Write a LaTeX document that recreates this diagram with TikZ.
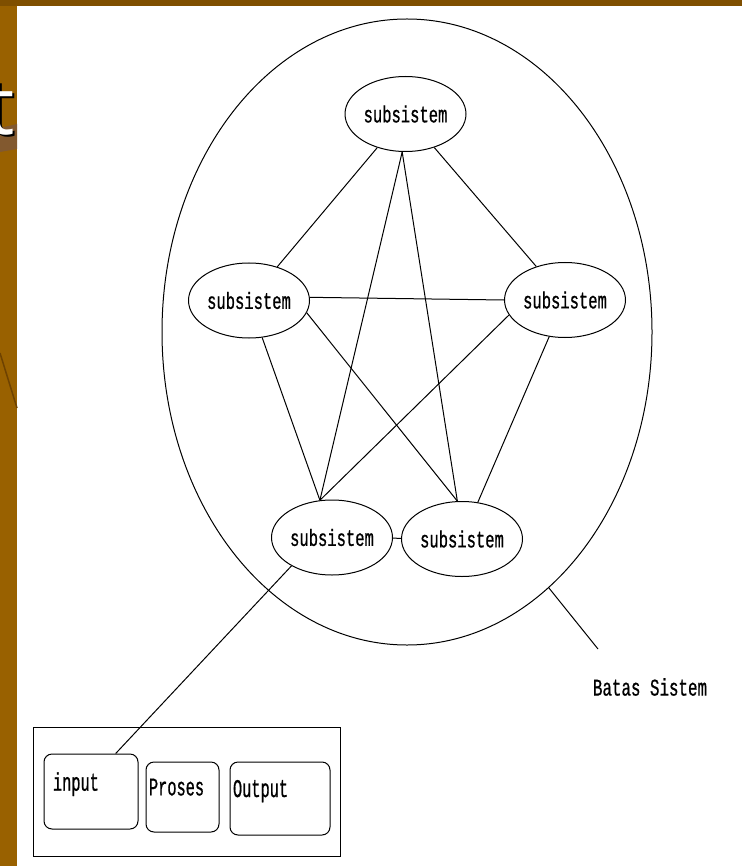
\documentclass[tikz,border=0pt]{standalone}
\usepackage{fontspec}
\newfontfamily\dosfont{Liberation Mono}[FakeStretch=0.66, FakeBold=0.7]
\newfontfamily\dostall{Liberation Mono}[FakeStretch=0.60, FakeBold=0.7]
\newfontfamily\slidefont{Open Sans}
\usetikzlibrary{shapes.geometric}
\definecolor{slidebrown}{HTML}{996100}
\definecolor{slidetop}{HTML}{7F4F00}
\definecolor{slideband}{HTML}{82592F}
\definecolor{slideline}{HTML}{6E4200}
\tikzset{
  subsys/.style={
    shape = ellipse,
    draw,
    inner sep = 0,
    minimum width = 121pt,
    minimum height = 75pt,
    font = \dosfont\fontsize{23.5}{23.5}\selectfont
  },
  procbox/.style={
    draw,
    rounded corners = 8pt,
    align = left,
    inner ysep = 0,
    text depth = 20pt,
    font = \dostall\fontsize{25.5}{25.5}\selectfont
  },
  every picture/.style = {
    x = 1pt,
    y = -1pt,
    line width = 1pt
  }
}

\begin{document}
\begin{tikzpicture}
  \useasboundingbox (0,0) rectangle (742,866);
  % slide background
  \fill[slidetop] (0,0) rectangle (742,6);
  \fill[slidebrown] (0,6) rectangle (17,866);
  \fill[slideband] (0,128) -- (17,124) -- (17,149) -- (0,152) -- cycle;
  \draw[slideline, line width=1.5pt] (0,353) -- (17,408);
  \begin{scope}
    \clip (0,6) rectangle (17,866);
    \node[anchor=base west, inner sep=0, font=\slidefont\fontsize{80}{80}\selectfont] at (-12,137) {t};
    \node[anchor=base west, inner sep=0, white, font=\slidefont\fontsize{80}{80}\selectfont] at (-14,135) {t};
  \end{scope}

  \node[ellipse, draw, minimum width=490pt, minimum height=626pt, inner sep=0] (boundary) at (407,332) {};
  \foreach \n/\x/\y in {1/405.5/114, 2/249/300.5, 3/565/300, 4/332/537.5, 5/462/539}
    \node[subsys] (s\n) at (\x,\y) {subsistem};
  \foreach \a/\b in {s1/s2, s1/s3, s1.265/s4.108, s1.265/s5.97, s2.3/s3.180,
                     s2/s4.108, s2.-12/s5.97, s3.195/s4.108, s3/s5, s4/s5}
    \draw (\a) -- (\b);

  % batas sistem
  \coordinate (batasend) at (598,649);
  \draw (boundary.-61) -- (batasend);
  \node[font=\dosfont\fontsize{24}{24}\selectfont] (batas) at (650,687) {Batas Sistem};

  % input proses output
  \node[draw, minimum width=307pt, minimum height=129pt] (frame) at (186.5,791.5) {};
  \node[procbox, minimum height=75pt, inner xsep=9pt, text width=76pt] (inp) at (91,791.5) {input};
  \node[procbox, minimum height=70pt, inner xsep=3pt, text width=67pt] (proc) at (182.5,797) {Proses};
  \node[procbox, minimum height=73pt, inner xsep=3pt, text width=94pt] (outp) at (280,798.5) {Output};
  \draw (s4.215) -- (inp.57);
\end{tikzpicture}
\end{document}
